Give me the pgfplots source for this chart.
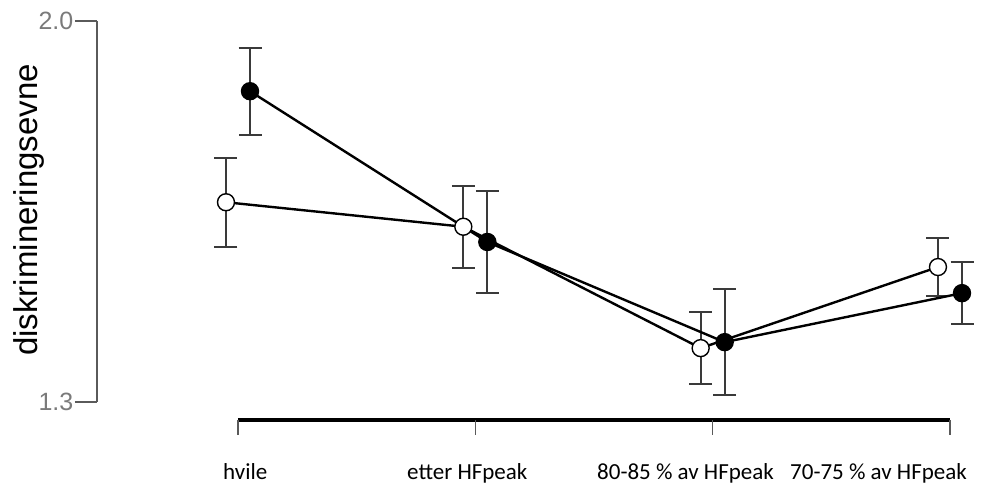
\documentclass[border=0pt]{standalone}
\usepackage{pgfplots}
\pgfplotsset{compat=1.18}
\usepackage{pgfplotstable}
\usepackage{fontspec}
\setmainfont{Liberation Sans}
\newfontfamily\carlito{Carlito}
\definecolor{axgrey}{HTML}{5A5A5A}
\definecolor{labgrey}{HTML}{7A7A7A}
\definecolor{errgrey}{HTML}{3A3A3A}

\pgfplotstableread{
x y e
-0.0506 1.667 0.082
0.9494 1.622 0.075
1.9494 1.399 0.066
2.9494 1.548 0.053
}\openser
\pgfplotstableread{
x y e
0.0506 1.871 0.080
1.0506 1.594 0.093
2.0506 1.410 0.097
3.0506 1.500 0.057
}\fillser

\begin{document}
\begin{tikzpicture}
\begin{axis}[
  scale only axis,
  width=884bp, height=420bp,
  xmin=-0.59412, xmax=3.13068,
  ymin=1.26694, ymax=2.03858,
  clip=false,
  axis lines*=left,
  axis line style={draw=none},
  xtick=\empty,
  ytick={1.3,2.0},
  yticklabels={1.3,2.0},
  tick align=outside,
  major tick length=22bp,
  y tick style={axgrey, line width=1.6bp},
  yticklabel style={font=\fontsize{25bp}{27bp}\selectfont, text=labgrey, inner sep=1.5bp},
  /pgf/number format/assume math mode=true,
]
% axis lines
\draw[axgrey, line width=1.8bp] (axis cs:-0.59412,1.3) -- (axis cs:-0.59412,2.0);
\draw[black, line width=3.5bp] (axis cs:0,1.26694) -- (axis cs:3,1.26694);
\foreach \i in {0,1,2,3}{
  \edef\tmp{\noexpand\draw[axgrey, line width=1.6bp] (axis cs:\i,1.26694) -- (axis cs:\i,1.23938);}\tmp
}

\addplot[black, line width=2.4bp, mark=*, mark size=8.5bp,
  mark options={fill=white, draw=black, line width=1.4bp},
  error bars/.cd, y dir=both, y explicit,
  error bar style={errgrey, line width=2bp},
  error mark options={rotate=90, mark size=11.5bp, errgrey, line width=2bp}]
  table[x=x, y=y, y error=e] {\openser};
\addplot[black, line width=2.4bp, mark=*, mark size=8.5bp,
  mark options={fill=black, draw=black, line width=1.4bp},
  error bars/.cd, y dir=both, y explicit,
  error bar style={errgrey, line width=2bp},
  error mark options={rotate=90, mark size=11.5bp, errgrey, line width=2bp}]
  table[x=x, y=y, y error=e] {\fillser};

% labels
\node[rotate=90, anchor=base, inner sep=0pt, font=\fontsize{33bp}{36bp}\selectfont]
  at (axis cs:-0.8469,1.6528) {diskrimineringsevne};
\node[anchor=base west, inner sep=0pt, font=\carlito\fontsize{23bp}{25bp}\selectfont] at (axis cs:-0.0632,1.15855) {hvile};
\node[anchor=base west, inner sep=0pt, font=\carlito\fontsize{23bp}{25bp}\selectfont] at (axis cs:0.7121,1.15855) {etter HFpeak};
\node[anchor=base west, inner sep=0pt, font=\carlito\fontsize{23bp}{25bp}\selectfont] at (axis cs:1.5127,1.15855) {80-85 \% av HFpeak};
\node[anchor=base west, inner sep=0pt, font=\carlito\fontsize{23bp}{25bp}\selectfont] at (axis cs:2.3259,1.15855) {70-75 \% av HFpeak};

\coordinate (bl) at (axis cs:-1.00282,1.14753);
\coordinate (tr) at (axis cs:3.13068,2.03858);
\end{axis}
\pgfresetboundingbox
\path[use as bounding box] (bl) rectangle (tr);
\end{tikzpicture}
\end{document}
